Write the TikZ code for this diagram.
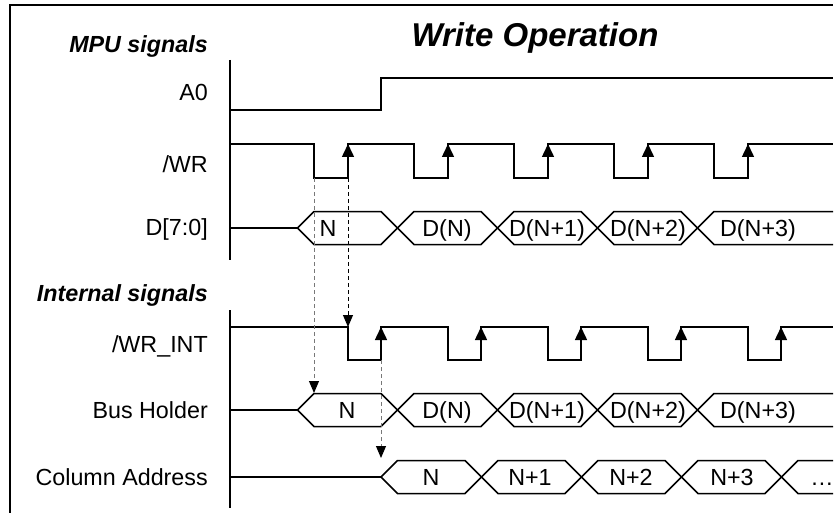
\documentclass[tikz,border=0pt]{standalone}
\usepackage{fontspec}
\setmainfont{Liberation Sans}
\usetikzlibrary{arrows.meta}
\definecolor{dashgray}{RGB}{120,120,120}
\tikzset{
  wave/.style={line width=1.5pt},
  lbl/.style={anchor=base east, inner sep=0pt, font=\fontsize{23.3}{28}\selectfont},
  grp/.style={anchor=base east, inner sep=0pt, font=\fontsize{23.3}{28}\selectfont\bfseries\itshape},
  val/.style={anchor=base, inner sep=0pt, font=\fontsize{23.3}{28}\selectfont},
  rise/.style={line width=1.5pt, -{Triangle[length=13pt,width=12pt]}},
  cause/.style={dashed, dash pattern=on 4pt off 3pt, line width=1pt,
    -{Triangle[length=12pt,width=10pt,color=black]}},
}
\begin{document}
\begin{tikzpicture}[x=1pt,y=-1pt]
  \useasboundingbox (0,0) rectangle (837,513);
  \draw[line width=2.4pt] (10,513) -- (10,5) -- (833,5);
  \node[anchor=base, inner sep=0pt, font=\fontsize{33}{40}\selectfont\bfseries\itshape]
    (title) at (535,47) {Write Operation};
  % labels
  \node[grp] (mpu) at (208,53) {MPU signals};
  \node[lbl] (a0) at (208,101) {A0};
  \node[lbl] (wr) at (208,172) {/WR};
  \node[lbl] (data) at (208,235) {D[7:0]};
  \node[grp] (internal) at (208,301) {Internal signals};
  \node[lbl] (wrint) at (208,352) {/WR\_INT};
  \node[lbl] (busholder) at (208,418) {Bus Holder};
  \node[lbl] (coladdr) at (208,485) {Column Address};
  \draw[wave] (230,60) -- (230,260);
  \draw[wave] (230,310) -- (230,508);
  % MPU signals
  \draw[wave] (230,110) -- (381,110) -- (381,78) -- (833,78);
  \draw[wave] (230,144) \foreach \x in {314,414,514,614,714}
    {-- (\x,144) -- (\x,178) -- (\x+34,178) -- (\x+34,144)} -- (833,144);
  \foreach \x in {348,448,548,648,748}
    \draw[rise] (\x,178) -- (\x,144);
  \draw[wave] (230,228) -- (297.5,228);
  \foreach \a/\b in {314/381,414/481,514/581,614/681}
    \draw[wave] (\a-16.5,228) -- (\a,211.5) -- (\b,211.5) -- (\b+16.5,228)
      -- (\b,244.5) -- (\a,244.5) -- cycle;
  \draw[wave] (833,211.5) -- (714,211.5) -- (697.5,228) -- (714,244.5) -- (833,244.5);
  \node[val] (dn0) at (328,236) {N};
  \node[val] (dn1) at (447,236) {D(N)};
  \node[val] (dn2) at (547,236) {D(N+1)};
  \node[val] (dn3) at (648,236) {D(N+2)};
  \node[val] (dn4) at (758,236) {D(N+3)};
  % internal signals
  \draw[wave] (230,327) \foreach \x in {348,448,548,648,748}
    {-- (\x,327) -- (\x,360) -- (\x+33,360) -- (\x+33,327)} -- (833,327);
  \foreach \x in {381,481,581,681,781}
    \draw[rise] (\x,360) -- (\x,327);
  \draw[wave] (230,410) -- (297.5,410);
  \foreach \a/\b in {314/381,414/481,514/581,614/681}
    \draw[wave] (\a-16.5,410) -- (\a,393.5) -- (\b,393.5) -- (\b+16.5,410)
      -- (\b,426.5) -- (\a,426.5) -- cycle;
  \draw[wave] (833,393.5) -- (714,393.5) -- (697.5,410) -- (714,426.5) -- (833,426.5);
  \node[val] (bh0) at (347,418) {N};
  \node[val] (bh1) at (447,418) {D(N)};
  \node[val] (bh2) at (547,418) {D(N+1)};
  \node[val] (bh3) at (648,418) {D(N+2)};
  \node[val] (bh4) at (758,418) {D(N+3)};
  \draw[wave] (230,477) -- (381,477);
  \foreach \a/\b in {397.5/465,498/565,598/665,698/765}
    \draw[wave] (\a-16.5,477) -- (\a,460.5) -- (\b,460.5) -- (\b+16.5,477)
      -- (\b,493.5) -- (\a,493.5) -- cycle;
  \draw[wave] (833,460.5) -- (798,460.5) -- (781.5,477) -- (798,493.5) -- (833,493.5);
  \node[val] (ca0) at (431,485) {N};
  \node[val] (ca1) at (530,485) {N+1};
  \node[val] (ca2) at (631,485) {N+2};
  \node[val] (ca3) at (732,485) {N+3};
  \node[val] (ca4) at (822,485) {…};
  % cause and effect
  \coordinate (wrfall) at (314,178);
  \coordinate (bhstart) at (314,393);
  \coordinate (wrrise) at (348,178);
  \coordinate (intfall) at (348,327);
  \coordinate (intrise) at (381,360);
  \coordinate (castart) at (381,458);
  \draw[cause, dashgray] (wrfall) -- (bhstart);
  \draw[cause] (wrrise) -- (intfall);
  \draw[cause, dashgray] (intrise) -- (castart);
\end{tikzpicture}
\end{document}
